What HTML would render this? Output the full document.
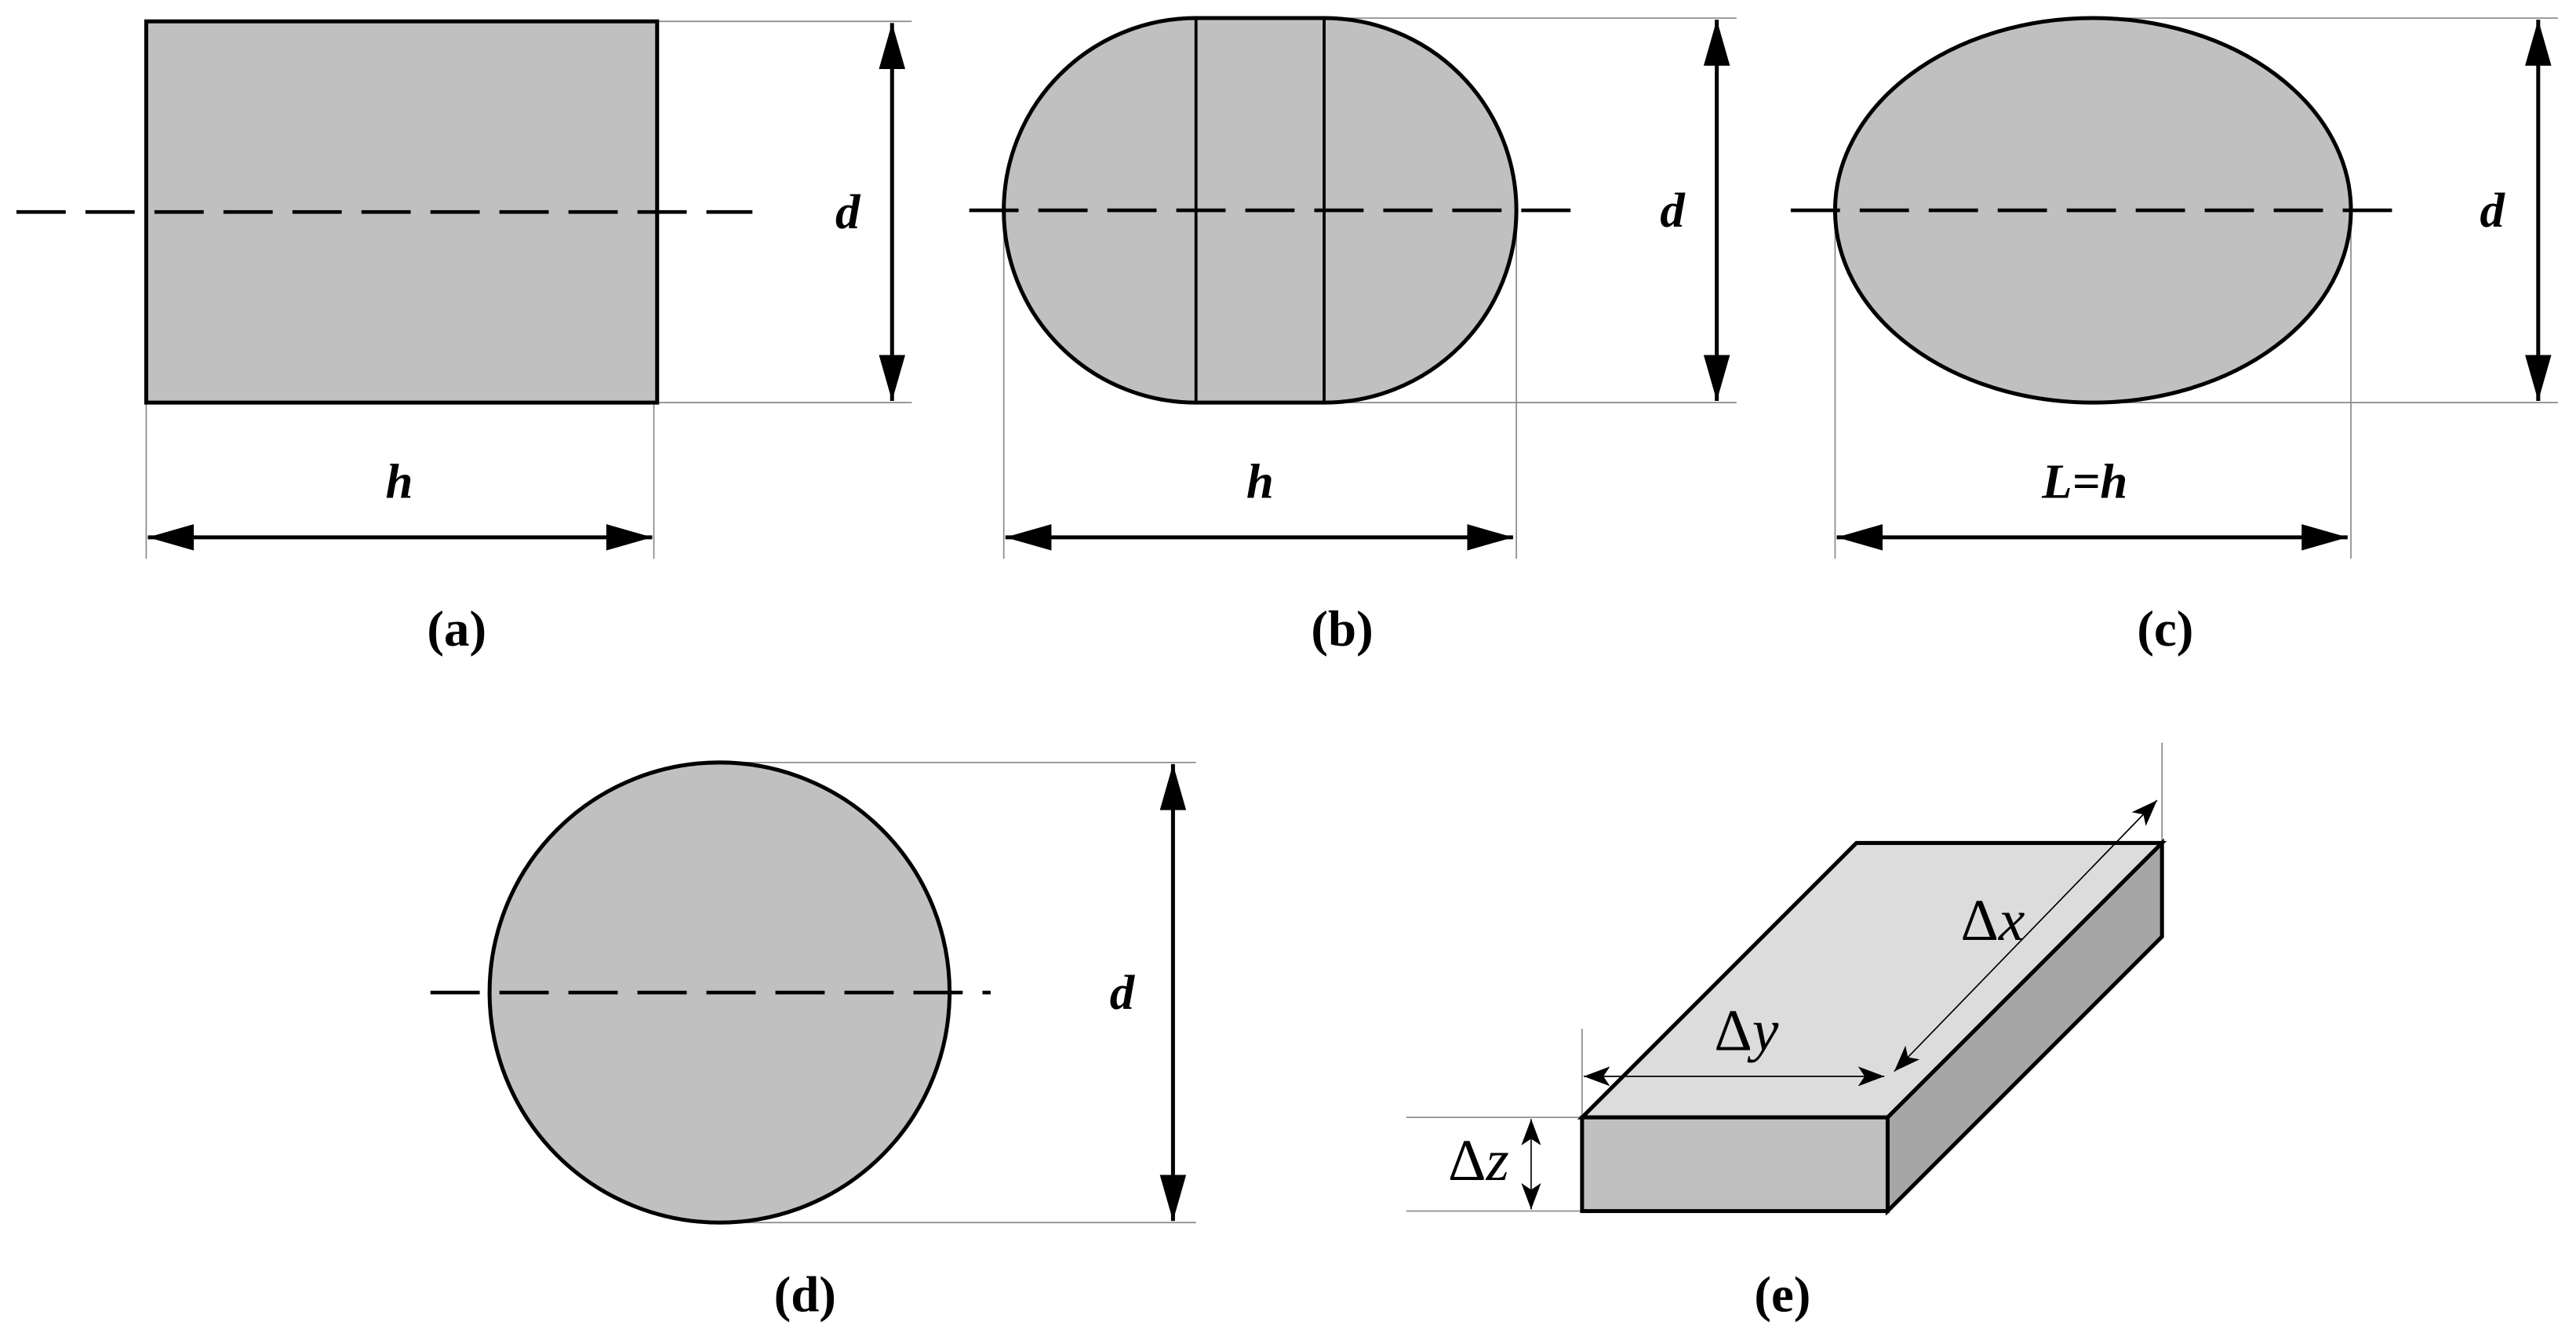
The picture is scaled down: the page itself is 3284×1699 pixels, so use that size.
<!DOCTYPE html>
<html><head><meta charset="utf-8"><style>
html,body{margin:0;padding:0;background:#fff;}
svg{display:block;}
.lbl{font-family:"Liberation Serif",serif;font-style:italic;font-weight:bold;font-size:30px;}
.cap{font-family:"Liberation Serif",serif;font-size:31px;font-weight:bold;}
.lab2{font-family:"Liberation Serif",serif;font-size:36px;}
</style></head><body>
<svg width="3284" height="1699" viewBox="0 0 1568 811.2" preserveAspectRatio="none" xmlns="http://www.w3.org/2000/svg">
<defs>
<marker id="ar" viewBox="0 0 28 16" refX="28" refY="8" markerWidth="28" markerHeight="16" markerUnits="userSpaceOnUse" orient="auto-start-reverse"><path d="M0,0L28,8L0,16z" fill="#000"/></marker>
<marker id="as" viewBox="0 0 16 12" refX="16" refY="6" markerWidth="16" markerHeight="12" markerUnits="userSpaceOnUse" orient="auto-start-reverse"><path d="M0,0L16,6L0,12L4,6z" fill="#000"/></marker>
</defs>
<g stroke="#888" stroke-width="0.8" fill="none">
<line x1="400" y1="13" x2="555" y2="13"/><line x1="400" y1="245" x2="555" y2="245"/>
<line x1="89" y1="245" x2="89" y2="340"/><line x1="398" y1="245" x2="398" y2="340"/>
<line x1="806" y1="11" x2="1057" y2="11"/><line x1="806" y1="245" x2="1057" y2="245"/>
<line x1="611" y1="128" x2="611" y2="340"/><line x1="923" y1="128" x2="923" y2="340"/>
<line x1="1274" y1="11" x2="1557" y2="11"/><line x1="1274" y1="245" x2="1557" y2="245"/>
<line x1="1117" y1="128" x2="1117" y2="340"/><line x1="1431" y1="128" x2="1431" y2="340"/>
<line x1="438" y1="464" x2="728" y2="464"/><line x1="438" y1="744" x2="728" y2="744"/>
<line x1="1316" y1="452" x2="1316" y2="513"/>
<line x1="963" y1="626" x2="963" y2="680"/><line x1="1149" y1="626" x2="1149" y2="680"/>
<line x1="856" y1="680" x2="963" y2="680"/><line x1="856" y1="737" x2="963" y2="737"/>
</g>
<rect x="89" y="13" width="311" height="232" fill="#c0c0c0" stroke="#000" stroke-width="2.4"/>
<path d="M728,11 L806,11 A117,117 0 0 1 806,245 L728,245 A117,117 0 0 1 728,11 Z" fill="#c0c0c0" stroke="#000" stroke-width="2.4"/>
<line x1="728" y1="11" x2="728" y2="245" stroke="#000" stroke-width="1.8"/>
<line x1="806" y1="11" x2="806" y2="245" stroke="#000" stroke-width="1.8"/>
<ellipse cx="1274" cy="128" rx="157" ry="117" fill="#c0c0c0" stroke="#000" stroke-width="2.4"/>
<circle cx="438" cy="604" r="140" fill="#c0c0c0" stroke="#000" stroke-width="2.4"/>
<g stroke="#000" stroke-width="2.2" fill="none" stroke-dasharray="30 12">
<line x1="10" y1="129" x2="458" y2="129"/>
<line x1="590" y1="128" x2="965" y2="128"/>
<line x1="1090" y1="128" x2="1462" y2="128"/>
<line x1="262" y1="604" x2="603" y2="604"/>
</g>
<g stroke="#000" stroke-width="2.4" fill="none">
<line x1="543" y1="14" x2="543" y2="244" marker-start="url(#ar)" marker-end="url(#ar)"/>
<line x1="90" y1="327" x2="397" y2="327" marker-start="url(#ar)" marker-end="url(#ar)"/>
<line x1="1045" y1="12" x2="1045" y2="244" marker-start="url(#ar)" marker-end="url(#ar)"/>
<line x1="612" y1="327" x2="921" y2="327" marker-start="url(#ar)" marker-end="url(#ar)"/>
<line x1="1545" y1="12" x2="1545" y2="244" marker-start="url(#ar)" marker-end="url(#ar)"/>
<line x1="1118" y1="327" x2="1429" y2="327" marker-start="url(#ar)" marker-end="url(#ar)"/>
<line x1="714" y1="465" x2="714" y2="743" marker-start="url(#ar)" marker-end="url(#ar)"/>
</g>
<polygon points="1130,513 1316,513 1149,680 963,680" fill="#dcdcdc" stroke="#000" stroke-width="2.4"/>
<polygon points="1149,680 1316,513 1316,570 1149,737" fill="#a6a6a6" stroke="#000" stroke-width="2.4"/>
<rect x="963" y="680" width="186" height="57" fill="#c0c0c0" stroke="#000" stroke-width="2.4"/>
<g stroke="#000" stroke-width="0.8" fill="none">
<line x1="1153" y1="652" x2="1313" y2="487" marker-start="url(#as)" marker-end="url(#as)"/>
<line x1="964" y1="655" x2="1147" y2="655" marker-start="url(#as)" marker-end="url(#as)"/>
<line x1="932" y1="681" x2="932" y2="736" marker-start="url(#as)" marker-end="url(#as)"/>
</g>
<text class="lbl" x="516" y="139" text-anchor="middle">d</text>
<text class="lbl" x="243" y="303" text-anchor="middle">h</text>
<text class="lbl" x="1018" y="138" text-anchor="middle">d</text>
<text class="lbl" x="767" y="303" text-anchor="middle">h</text>
<text class="lbl" x="1517" y="138" text-anchor="middle">d</text>
<text class="lbl" x="1269" y="303" text-anchor="middle">L=h</text>
<text class="lbl" x="683" y="614" text-anchor="middle">d</text>
<text class="lab2" x="1213" y="572" text-anchor="middle">Δ<tspan font-style="italic">x</tspan></text>
<text class="lab2" x="1063" y="639" text-anchor="middle">Δ<tspan font-style="italic">y</tspan></text>
<text class="lab2" x="900" y="718" text-anchor="middle">Δ<tspan font-style="italic">z</tspan></text>
<text class="cap" x="278" y="393" text-anchor="middle">(a)</text>
<text class="cap" x="817" y="393" text-anchor="middle">(b)</text>
<text class="cap" x="1318" y="393" text-anchor="middle">(c)</text>
<text class="cap" x="490" y="798" text-anchor="middle">(d)</text>
<text class="cap" x="1085" y="798" text-anchor="middle">(e)</text>
</svg>
</body></html>
